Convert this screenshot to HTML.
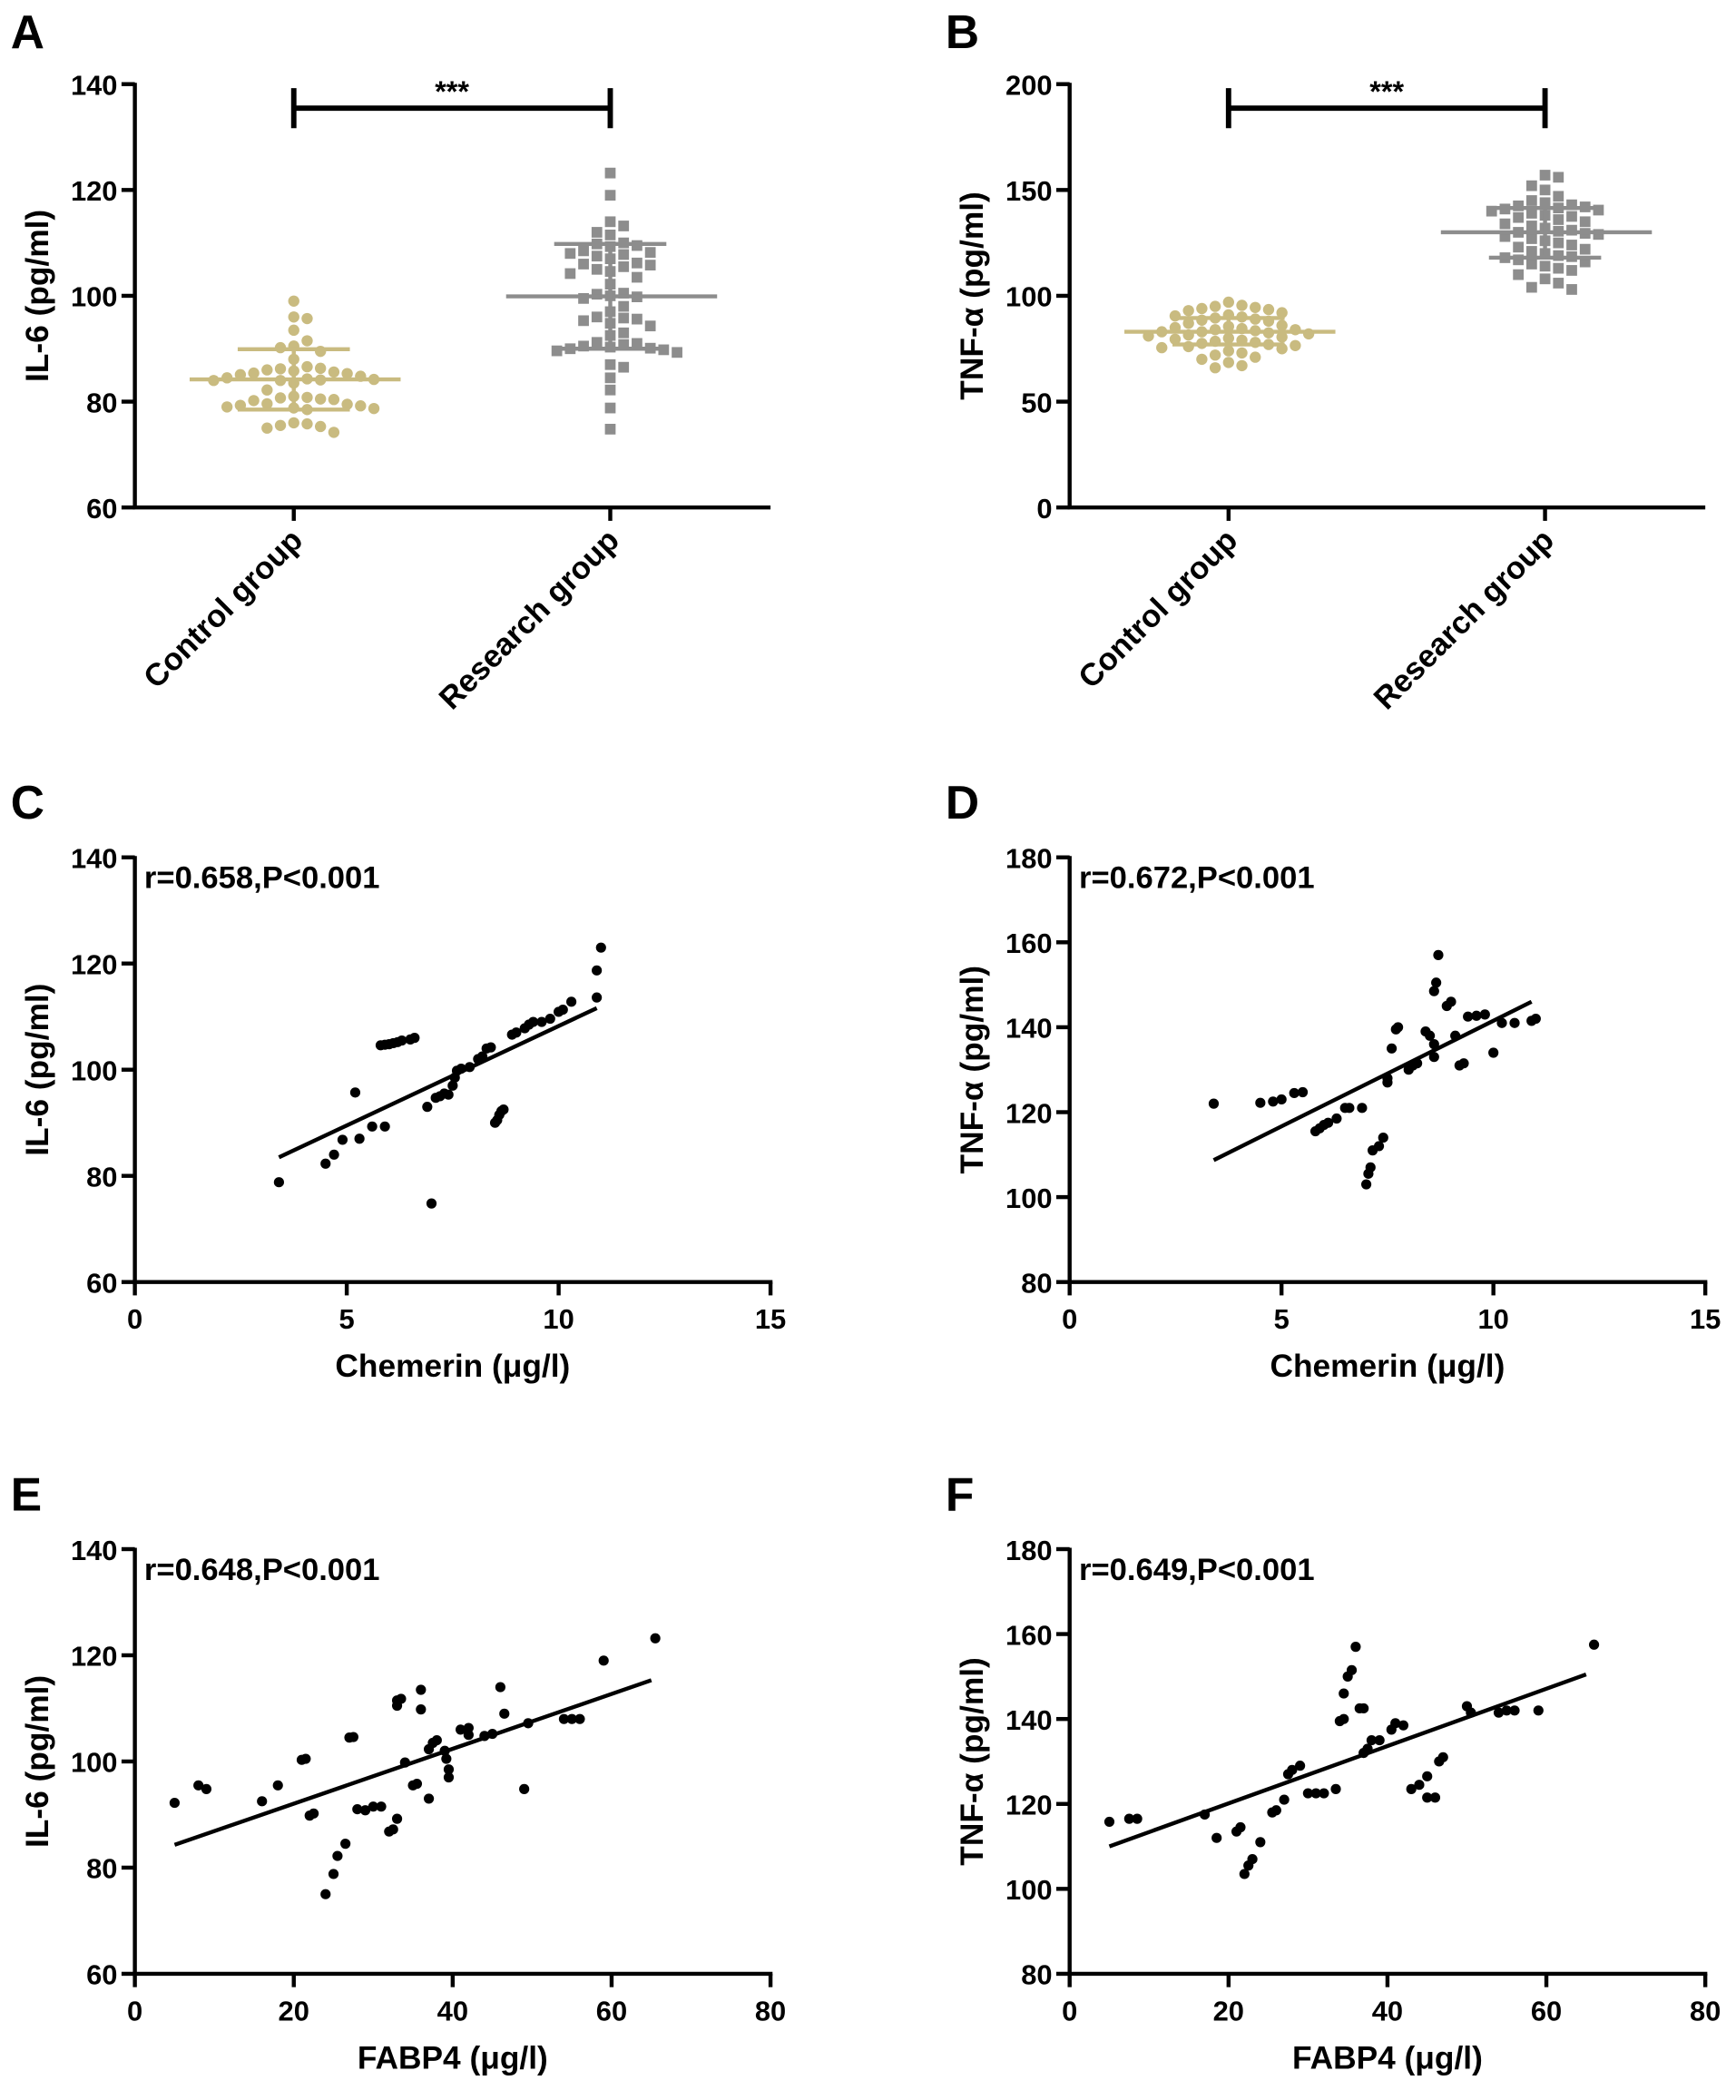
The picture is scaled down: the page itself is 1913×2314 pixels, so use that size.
<!DOCTYPE html>
<html><head><meta charset="utf-8"><style>
html,body{margin:0;padding:0;background:#fff;}
svg{display:block;}
text{font-family:"Liberation Sans",Arial,sans-serif;font-weight:bold;fill:#000;}
</style></head><body>
<svg id="fig" width="1913" height="2314" viewBox="0 0 1300 1572.5" xmlns="http://www.w3.org/2000/svg"></svg>
<script>
// ---- Data ----
const groupCats = ["Control group","Research group"];
const il6Control = [99,96,95.7,93.5,91.5,90.5,90.2,89.5,88,86.6,86.2,86.3,86,85.8,85.6,85.4,85.3,85.1,84.8,84.5,84.3,84.2,84.1,84,84,83.5,82.2,81,80.8,80.7,80.5,80.4,80.2,79.6,79.5,79.3,79.2,79,78.8,78.7,78.5,76,75.8,75.5,75.3,75,74.2];
const il6Research = [123.2,119,114,113.2,112,111.5,110,109.8,109.5,109.3,108.5,108.2,108,107.8,107.5,107,106.2,106,105.8,105.5,105,104.6,104.2,103.5,102.2,100.5,100.3,100,99.8,99.5,98,97,96,95.8,95.6,95.3,94.8,94.3,93,92.5,91.2,91,90.8,90.5,90.3,90.1,90,89.8,89.6,89.3,87,86.5,84.5,82.2,78.8,74.8];
const il6Stats = [[84.2,78.5,89.9],[99.9,90,109.8]]; // mean, low, high
const tnfControl = [97,95.5,95,94.5,94,93.5,93,92,91,90.5,90,89.5,89,88.5,88,87,86,85.5,85,84.5,84,84,83.5,83,83,82.5,82,81.5,81,80.5,80,79.5,79,78.5,78,77.5,77,76.5,76,75.5,75,74,73,72,71,70,68.5,67,66];
const tnfResearch = [157,156,152,150,147,145,144,143,142.5,142,141.5,141,140.5,140,139,138,137.5,137,136,135,134,133,132,131,130.5,130,129.5,129,128,127,126,125,124,123,122,121,120,119,118.5,118,117,116,115,114,113,112,110,108,106,104,103];
const tnfStats = [[83,77,89.5],[130,118,141.5]];

const chemC = [3.4,4.5,4.7,4.9,5.3,5.2,5.6,5.9,5.8,5.9,6.0,6.1,6.2,6.3,6.5,6.6,6.9,7.0,7.1,7.2,7.3,7.4,7.5,7.55,7.6,7.7,7.9,8.1,8.2,8.3,8.4,8.5,8.55,8.6,8.65,8.7,8.9,9.0,9.2,9.3,9.4,9.6,9.8,10.0,10.1,10.3,10.9,10.9,11.0];
const il6C = [78.8,82.3,84,86.8,87,95.7,89.3,89.3,104.6,104.7,104.8,105,105.2,105.5,105.7,106,93,74.8,94.7,95,95.5,95.3,97,98.5,99.8,100.2,100.5,102,102.5,104,104.2,90,90.5,91.5,92.2,92.5,106.6,107,107.8,108.5,109,109,109.6,110.9,111.3,112.8,113.6,118.7,123];
const fitC = [[3.4,83.5],[10.9,111.6]];

const chemD = [3.4,4.5,4.8,5.0,5.3,5.5,5.8,5.9,6.0,6.1,6.3,6.5,6.6,6.9,7.0,7.05,7.1,7.15,7.3,7.4,7.5,7.5,7.6,7.7,7.75,8.0,8.1,8.2,8.4,8.5,8.6,8.6,8.6,8.65,8.7,8.9,9.0,9.1,9.2,9.3,9.4,9.6,9.8,10.0,10.2,10.5,10.9,11.0];
const tnfD = [122,122.2,122.5,123,124.5,124.7,115.5,116.2,117,117.5,118.5,121,121,121,103,105.5,107,111,112,114,127,128,135,139.5,140,130,131,131.5,139,138,136,133,148.5,150.5,157,145,146,138,131,131.5,142.5,142.7,143,134,141,141,141.5,142];
const fitD = [[3.4,108.7],[10.9,146]];

const fabE = [5,8,9,16,18,21,21.5,22,22.5,24,25,25.5,26.5,27,27.5,28,29,30,31,32,32.5,33,33,33,33.5,34,35,35.5,36,36,37,37,37.5,38,39,39.2,39.5,39.5,41,42,42,44,45,46,46.5,49,49.5,54,55,56,59,65.5];
const il6E = [92.2,95.5,94.8,92.5,95.5,100.3,100.5,89.8,90.2,75,78.8,82.2,84.5,104.5,104.6,91,90.8,91.5,91.5,86.8,87.2,89.2,111.5,110.5,111.8,99.8,95.5,95.8,113.5,109.8,102.3,93,103.5,104,102,100.5,98.5,97,106,106.3,105,104.8,105.2,114,109,94.8,107.2,108,108,108,119,123.2];
const fitE = [[5,84.3],[65,115.3]];

const fabF = [5,7.5,8.5,17,18.5,21,21.5,22,22.5,23,24,25.5,26,27,27.5,28,29,30,31,32,33.5,34,34.5,34.5,35,35.5,36,36.5,37,37,37.5,38,39,40.5,41,42,43,44,45,45,46,46.5,47,50,50.5,54,55,56,59,66];
const tnfF = [115.8,116.5,116.5,117.5,112,113.5,114.5,103.5,105.5,107,111,118,118.5,121,127,128,129,122.5,122.5,122.5,123.5,139.5,140,146,150,151.5,157,142.5,142.5,132,133,135,135,137.5,139,138.5,123.5,124.5,126.5,121.5,121.5,130,131,143,141.5,141.5,142,142,142,157.5];
const fitF = [[5,110],[65,150.5]];

const il6Ticks = [60,80,100,120,140];
const tnfTicksB = [0,50,100,150,200];
const tnfTicks = [80,100,120,140,160,180];
const chemTicks = [0,5,10,15];
const fabTicks = [0,20,40,60,80];

// ---- Drawing ----
const NS = "http://www.w3.org/2000/svg";
const svg = document.getElementById('fig');
function mk(tag, attrs, parent){
  const e = document.createElementNS(NS, tag);
  for (const k in attrs) e.setAttribute(k, attrs[k]);
  (parent||svg).appendChild(e);
  return e;
}
function scale(d0,d1,p0,p1){ return v => p0 + (v-d0)/(d1-d0)*(p1-p0); }

function panelLetter(letter, x, y){
  const t = mk('text',{x:x,y:y,'font-size':35});
  
  
  t.textContent = letter;
}

function yAxis(g, ax, ytop, ybot, ticks, ys, title, titleX){
  const l = mk('line',{x1:ax,y1:ytop-1,x2:ax,y2:ybot,stroke:'#000','stroke-width':3},g);
  
  
  ticks.forEach(v=>{
    const y = ys(v);
    const tk = mk('line',{x1:ax-10,y1:y,x2:ax,y2:y,stroke:'#000','stroke-width':3},g);
    
    
    const t = mk('text',{x:ax-13,y:y+8,'font-size':21,'text-anchor':'end'},g);
    
    
    t.textContent = v;
  });
  const cy = (ytop+ybot)/2;
  const tt = mk('text',{x:titleX,y:cy,'font-size':24,'text-anchor':'middle',transform:`rotate(-90 ${titleX} ${cy})`},g);
  
  
  tt.textContent = title;
}

function groupPanel(ox, ymin, ymax, ticks, ctrl, res, stats, title){
  const g = mk('g',{});
  
  
  const ax = ox+101, ytop = 63, ybot = 380;
  const ys = scale(ymin,ymax,ybot,ytop);
  yAxis(g, ax, ytop, ybot, ticks, ys, title, ox+36);
  const xl = mk('line',{x1:ax-1.5,y1:ybot,x2:ox+577,y2:ybot,stroke:'#000','stroke-width':3},g);
  
  
  const cx = [ox+220, ox+457];
  groupCats.forEach((c,i)=>{
    const tk = mk('line',{x1:cx[i],y1:ybot,x2:cx[i],y2:ybot+10,stroke:'#000','stroke-width':3},g);
    
    
    const tx = cx[i]+8, ty = ybot+26;
    const t = mk('text',{x:tx,y:ty,'font-size':23.5,'text-anchor':'end',transform:`rotate(-45 ${tx} ${ty})`},g);
    
    
    t.textContent = c;
  });
  const b = mk('path',{d:`M${cx[0]} 66 V96 M${cx[0]} 81 H${cx[1]} M${cx[1]} 66 V96`,stroke:'#000','stroke-width':4,fill:'none'},g);
  
  
  const st = mk('text',{x:(cx[0]+cx[1])/2,y:76,'font-size':22,'font-weight':'normal','text-anchor':'middle'},g);
  
  
  st.textContent = '***';
  const colors = ['#c9bb80','#8d8d8d'];
  [ctrl,res].forEach((vals,gi)=>{
    const placed = [];
    const d = 10;
    vals.forEach(v=>{
      const y = ys(v);
      let off = 0;
      for (let k=0;k<40;k++){
        const cand = k===0?0:(k%2? Math.ceil(k/2)*d : -Math.ceil(k/2)*d);
        if (!placed.some(p=>Math.abs(p[0]-cand)<d-0.5 && Math.abs(p[1]-y)<d-1.5)){ off=cand; break; }
      }
      placed.push([off,y]);
      const x = cx[gi]+off;
      let m;
      if (gi===0) m = mk('circle',{cx:x,cy:y,r:4.2,fill:colors[0]},g);
      else m = mk('rect',{x:x-4,y:y-4,width:8,height:8,fill:colors[1]},g);
      
      
    });
    const [mean,lo,hi] = stats[gi];
    const ml = mk('line',{x1:cx[gi]-78,y1:ys(mean),x2:cx[gi]+80,y2:ys(mean),stroke:colors[gi],'stroke-width':3},g);
    
    
    const eb = mk('path',{d:`M${cx[gi]} ${ys(lo)} V${ys(hi)} M${cx[gi]-42} ${ys(lo)} H${cx[gi]+42} M${cx[gi]-42} ${ys(hi)} H${cx[gi]+42}`,stroke:colors[gi],'stroke-width':3,fill:'none'},g);
    
    
  });
}

function corrPanel(ox, oy, xmin, xmax, xticks, ymin, ymax, yticks, xs_, ys_, fit, ytitle, xtitle, rtext){
  const g = mk('g',{});
  
  
  const ax = ox+101, ytop = oy, ybot = oy+318, xr = ox+577;
  const ys = scale(ymin,ymax,ybot,ytop);
  const xs = scale(xmin,xmax,ax,xr);
  yAxis(g, ax, ytop, ybot, yticks, ys, ytitle, ox+36);
  const xl = mk('line',{x1:ax-1.5,y1:ybot,x2:xr+1.5,y2:ybot,stroke:'#000','stroke-width':3},g);
  
  
  xticks.forEach(v=>{
    const x = xs(v);
    const tk = mk('line',{x1:x,y1:ybot,x2:x,y2:ybot+10,stroke:'#000','stroke-width':3},g);
    
    
    const t = mk('text',{x:x,y:ybot+35,'font-size':21,'text-anchor':'middle'},g);
    
    
    t.textContent = v;
  });
  const xt = mk('text',{x:(ax+xr)/2,y:ybot+71,'font-size':24,'text-anchor':'middle'},g);
  
  
  xt.textContent = xtitle;
  const rt = mk('text',{x:ax+7,y:ytop+23,'font-size':23.5},g);
  
  
  rt.textContent = rtext;
  xs_.forEach((xv,i)=>{
    const c = mk('circle',{cx:xs(xv),cy:ys(ys_[i]),r:3.8,fill:'#000'},g);
    
    
  });
  const fl = mk('line',{x1:xs(fit[0][0]),y1:ys(fit[0][1]),x2:xs(fit[1][0]),y2:ys(fit[1][1]),stroke:'#000','stroke-width':3},g);
  
  
}

panelLetter('A',8,36); panelLetter('B',708,36);
panelLetter('C',8,613); panelLetter('D',708,613);
panelLetter('E',8,1131); panelLetter('F',708,1131);

groupPanel(0,60,140,il6Ticks,il6Control,il6Research,il6Stats,'IL-6 (pg/ml)');
groupPanel(700,0,200,tnfTicksB,tnfControl,tnfResearch,tnfStats,'TNF-α (pg/ml)');
corrPanel(0,642,0,15,chemTicks,60,140,il6Ticks,chemC,il6C,fitC,'IL-6 (pg/ml)','Chemerin (μg/l)','r=0.658,P<0.001');
corrPanel(700,642,0,15,chemTicks,80,180,tnfTicks,chemD,tnfD,fitD,'TNF-α (pg/ml)','Chemerin (μg/l)','r=0.672,P<0.001');
corrPanel(0,1160,0,80,fabTicks,60,140,il6Ticks,fabE,il6E,fitE,'IL-6 (pg/ml)','FABP4 (μg/l)','r=0.648,P<0.001');
corrPanel(700,1160,0,80,fabTicks,80,180,tnfTicks,fabF,tnfF,fitF,'TNF-α (pg/ml)','FABP4 (μg/l)','r=0.649,P<0.001');
</script>
</body></html>
